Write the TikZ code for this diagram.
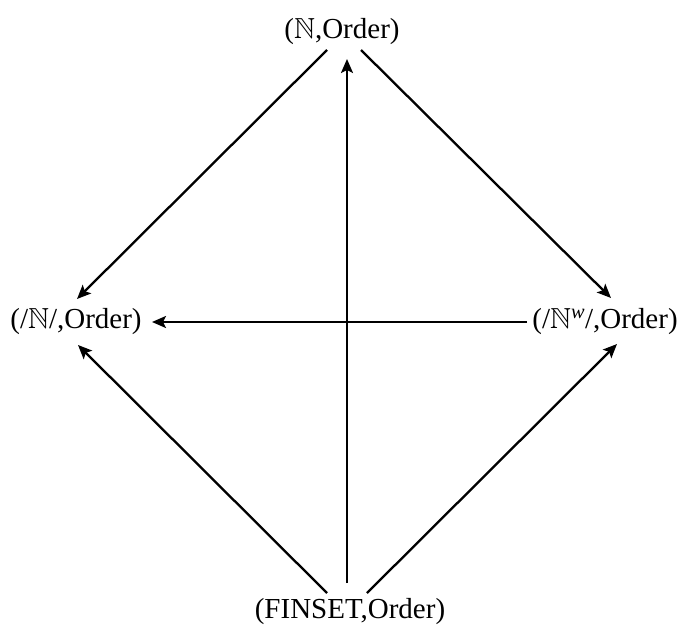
\documentclass[tikz,border=0pt]{standalone}
\usepackage{amssymb}
\usepackage{fontspec}
\setmainfont{Liberation Serif}
\usetikzlibrary{arrows.meta}
\begin{document}
\begin{tikzpicture}[x=1pt,y=-1pt,
  lbl/.style={inner sep=0pt, anchor=base, font=\fontsize{29}{33}\selectfont},
  arr/.style={-{Stealth[length=14pt,width=12pt,inset=3pt]}, line width=2.3pt}]
\useasboundingbox (0,0) rectangle (677,629);
\node[lbl] (top) at (342,38) {($\mathbb{N}$,Order)};
\node[lbl] (left) at (76,328) {(/$\mathbb{N}$/,Order)};
\node[lbl] (right) at (605,328) {(/$\mathbb{N}$\textsuperscript{\itshape w}/,Order)};
\node[lbl] (bot) at (350,618) {(FINSET,Order)};
% from top
\draw[arr] ([shift={(-15,12)}]top.base) -- ([shift={(1,-29)}]left.base);
\draw[arr] ([shift={(19,12)}]top.base) -- ([shift={(6,-30)}]right.base);
% from bottom
\draw[arr] ([shift={(-3,-35)}]bot.base) -- ([shift={(5,21)}]top.base);
\draw[arr] ([shift={(-23,-25)}]bot.base) -- ([shift={(2,17)}]left.base);
\draw[arr] ([shift={(17,-25)}]bot.base) -- ([shift={(12,16)}]right.base);
% horizontal
\draw[arr] ([shift={(-78,-6)}]right.base) -- ([shift={(76,-6)}]left.base);
\end{tikzpicture}
\end{document}
